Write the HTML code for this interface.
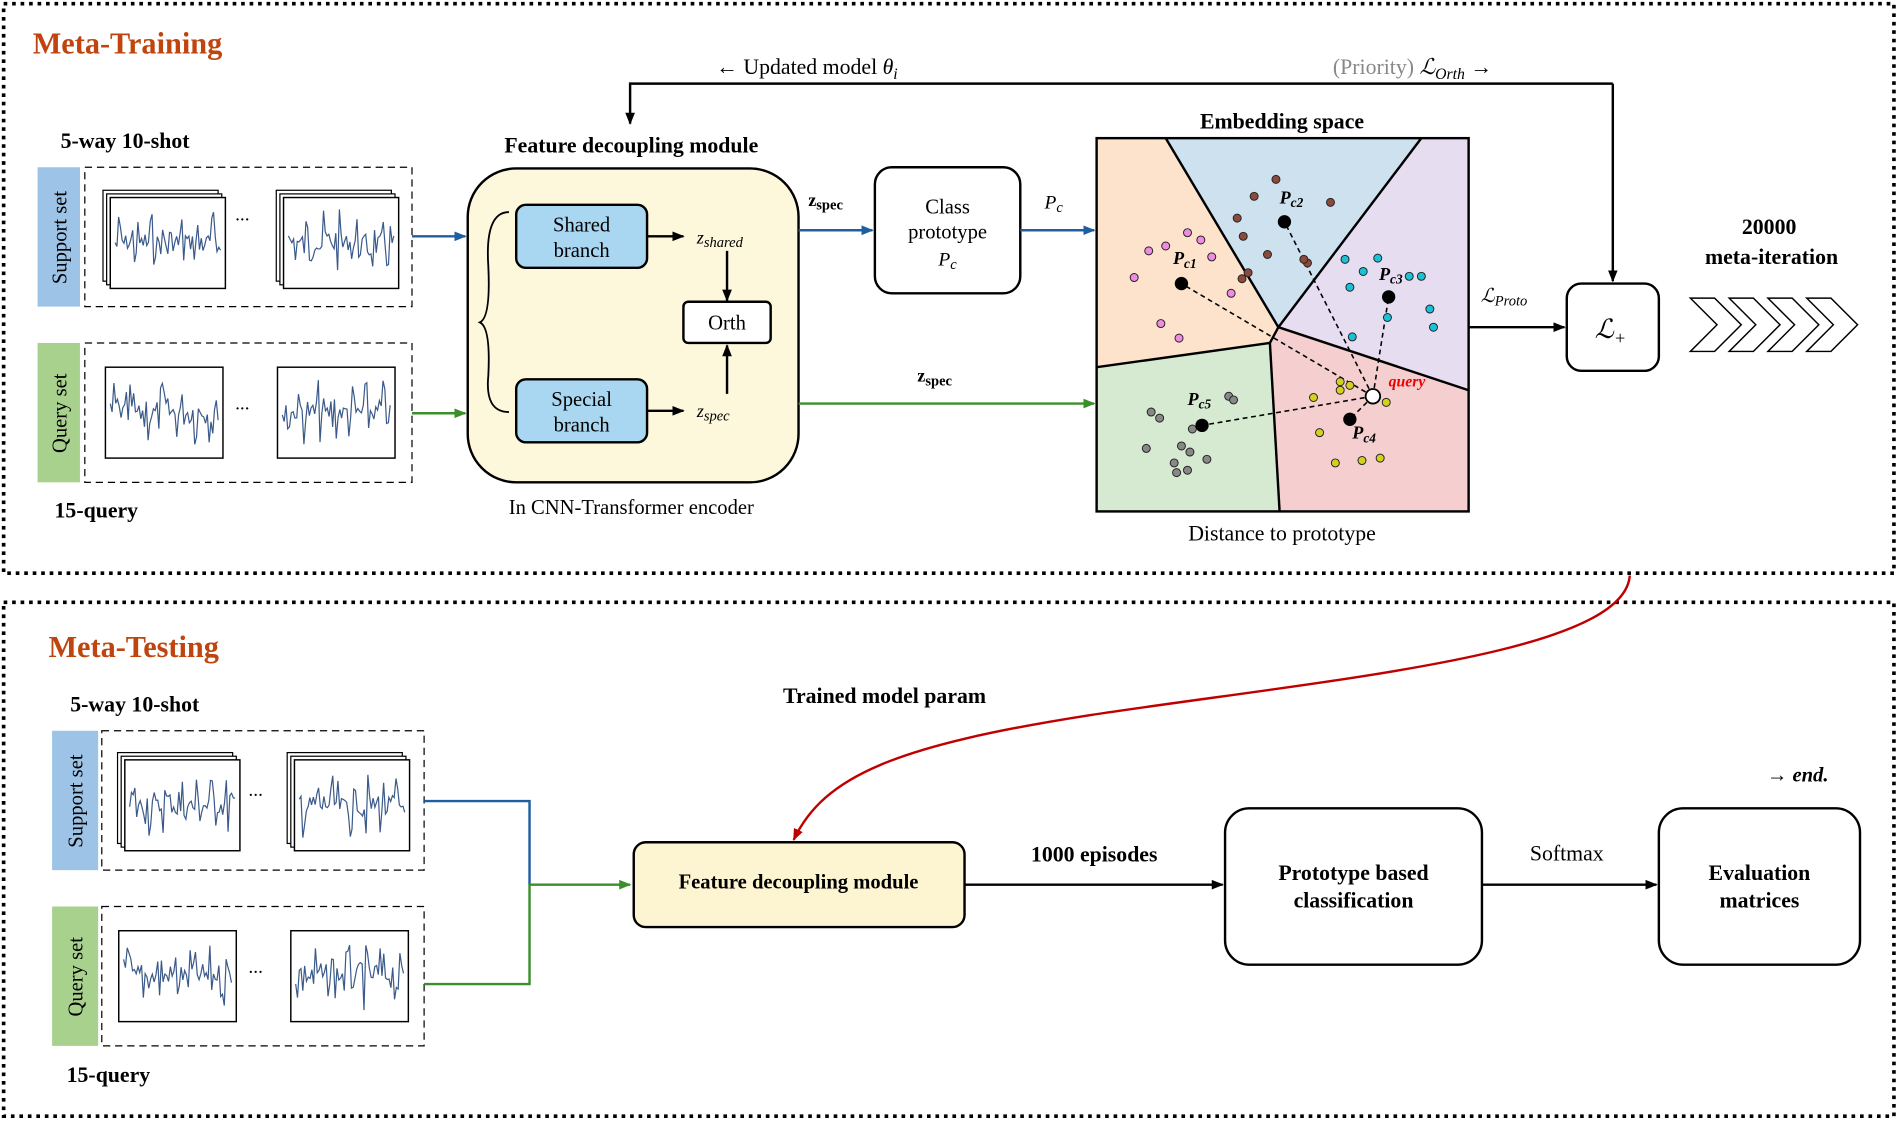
<!DOCTYPE html>
<html><head><meta charset="utf-8"><style>
html,body{margin:0;padding:0;background:#fff;}
svg{display:block;}
text{font-family:"Liberation Serif",serif;}
</style></head><body>
<svg id="s" width="1900" height="1121" viewBox="0 0 1568 925" preserveAspectRatio="none" xmlns="http://www.w3.org/2000/svg">
<defs>
<marker id="ak" markerWidth="10" markerHeight="10" refX="9" refY="5" orient="auto" markerUnits="userSpaceOnUse"><path d="M0,1 L10,5 L0,9 z" fill="#000"/></marker>
<marker id="ab" markerWidth="10" markerHeight="10" refX="9" refY="5" orient="auto" markerUnits="userSpaceOnUse"><path d="M0,1 L10,5 L0,9 z" fill="#1f5fa0"/></marker>
<marker id="ag" markerWidth="10" markerHeight="10" refX="9" refY="5" orient="auto" markerUnits="userSpaceOnUse"><path d="M0,1 L10,5 L0,9 z" fill="#3a8f2a"/></marker>
<marker id="ar" markerWidth="10" markerHeight="10" refX="9" refY="5" orient="auto" markerUnits="userSpaceOnUse"><path d="M0,1 L10,5 L0,9 z" fill="#c00000"/></marker>
</defs>
<rect x="3" y="3" width="1560" height="470" fill="none" stroke="#000" stroke-width="3" stroke-dasharray="3,4"/>
<rect x="3" y="497" width="1560" height="424" fill="none" stroke="#000" stroke-width="3" stroke-dasharray="3,4"/>
<text x="27" y="44" font-size="25" font-weight="bold" fill="#c0440e">Meta-Training</text>
<text x="40" y="542" font-size="25" font-weight="bold" fill="#c0440e">Meta-Testing</text>

<text x="50" y="122" font-size="18" font-weight="bold">5-way 10-shot</text>
<text x="45" y="427" font-size="18" font-weight="bold">15-query</text>
<rect x="31" y="138" width="35" height="115" fill="#9dc3e6"/>
<text transform="translate(55,196) rotate(-90)" font-size="17" text-anchor="middle">Support set</text>
<rect x="70" y="138" width="270" height="115" fill="none" stroke="#000" stroke-dasharray="6,4"/>
<rect x="31" y="283" width="35" height="115" fill="#a9d18e"/>
<text transform="translate(55,341) rotate(-90)" font-size="17" text-anchor="middle">Query set</text>
<rect x="70" y="283" width="270" height="115" fill="none" stroke="#000" stroke-dasharray="6,4"/>

<text x="58" y="587" font-size="18" font-weight="bold">5-way 10-shot</text>
<text x="55" y="893" font-size="18" font-weight="bold">15-query</text>
<rect x="43" y="603" width="38" height="115" fill="#9dc3e6"/>
<text transform="translate(68,661) rotate(-90)" font-size="17" text-anchor="middle">Support set</text>
<rect x="84" y="603" width="266" height="115" fill="none" stroke="#000" stroke-dasharray="6,4"/>
<rect x="43" y="748" width="38" height="115" fill="#a9d18e"/>
<text transform="translate(68,806) rotate(-90)" font-size="17" text-anchor="middle">Query set</text>
<rect x="84" y="748" width="266" height="115" fill="none" stroke="#000" stroke-dasharray="6,4"/>

<text x="521" y="126" font-size="18" font-weight="bold" text-anchor="middle">Feature decoupling module</text>
<rect x="386" y="139" width="273" height="259" rx="40" fill="#fdf7dc" stroke="#000" stroke-width="2"/>
<text x="521" y="424" font-size="17" text-anchor="middle">In CNN-Transformer encoder</text>
<rect x="426" y="169" width="108" height="52" rx="8" fill="#a9d6f0" stroke="#000" stroke-width="2"/>
<text x="480" y="191" font-size="17" text-anchor="middle">Shared</text><text x="480" y="212" font-size="17" text-anchor="middle">branch</text>
<rect x="426" y="313" width="108" height="52" rx="8" fill="#a9d6f0" stroke="#000" stroke-width="2"/>
<text x="480" y="335" font-size="17" text-anchor="middle">Special</text><text x="480" y="356" font-size="17" text-anchor="middle">branch</text>
<path d="M420,175 Q400,175 403,220 Q405,262 396,266 Q405,270 403,310 Q400,340 420,340" fill="none" stroke="#000" stroke-width="1.5"/>
<line x1="534" y1="195" x2="564" y2="195" stroke="#000" stroke-width="2" marker-end="url(#ak)"/>
<line x1="534" y1="339" x2="564" y2="339" stroke="#000" stroke-width="2" marker-end="url(#ak)"/>
<text x="575" y="201" font-size="15" font-style="italic">z<tspan font-size="12" dy="3">shared</tspan></text>
<text x="575" y="344" font-size="15" font-style="italic">z<tspan font-size="12" dy="3">spec</tspan></text>
<rect x="564" y="249" width="72" height="34" rx="4" fill="#fff" stroke="#000" stroke-width="2"/>
<text x="600" y="272" font-size="17" text-anchor="middle">Orth</text>
<line x1="600" y1="207" x2="600" y2="248" stroke="#000" stroke-width="2" marker-end="url(#ak)"/>
<line x1="600" y1="325" x2="600" y2="285" stroke="#000" stroke-width="2" marker-end="url(#ak)"/>

<line x1="340" y1="195" x2="384" y2="195" stroke="#1f5fa0" stroke-width="2" marker-end="url(#ab)"/>
<line x1="340" y1="341" x2="384" y2="341" stroke="#3a8f2a" stroke-width="2" marker-end="url(#ag)"/>
<line x1="659" y1="190" x2="720" y2="190" stroke="#1f5fa0" stroke-width="2" marker-end="url(#ab)"/>
<text x="667" y="170" font-size="15" font-weight="bold">z<tspan font-size="12" dy="3">spec</tspan></text>
<line x1="659" y1="333" x2="903" y2="333" stroke="#3a8f2a" stroke-width="2" marker-end="url(#ag)"/>
<text x="757" y="315" font-size="15" font-weight="bold">z<tspan font-size="12" dy="3">spec</tspan></text>
<rect x="722" y="138" width="120" height="104" rx="14" fill="#fff" stroke="#000" stroke-width="2"/>
<text x="782" y="176" font-size="17" text-anchor="middle">Class</text>
<text x="782" y="197" font-size="17" text-anchor="middle">prototype</text>
<text x="782" y="219" font-size="16" font-style="italic" text-anchor="middle">P<tspan font-size="12" dy="3">c</tspan></text>
<line x1="842" y1="190" x2="903" y2="190" stroke="#1f5fa0" stroke-width="2" marker-end="url(#ab)"/>
<text x="862" y="172" font-size="16" font-style="italic">P<tspan font-size="12" dy="3">c</tspan></text>

<path d="M1331,69 L520,69 L520,102" fill="none" stroke="#000" stroke-width="2" marker-end="url(#ak)"/>
<line x1="1331" y1="69" x2="1331" y2="232" stroke="#000" stroke-width="2" marker-end="url(#ak)"/>
<text x="591" y="61" font-size="18">← Updated model <tspan font-style="italic">θ</tspan><tspan font-style="italic" font-size="13" dy="4">i</tspan></text>
<text x="1100" y="61" font-size="18" fill="#888">(Priority) <tspan font-style="italic" fill="#000">ℒ</tspan><tspan font-style="italic" font-size="13" dy="4" fill="#000">Orth</tspan><tspan dy="-4" fill="#000"> →</tspan></text>

<text x="1058" y="106" font-size="18" font-weight="bold" text-anchor="middle">Embedding space</text>
<polygon points="905,114 962,114 1055,270 1048,283 905,303" fill="#fde3cc"/>
<polygon points="962,114 1173,114 1055,270" fill="#cde1ee"/>
<polygon points="1173,114 1212,114 1212,322 1055,270" fill="#e6ddf1"/>
<polygon points="905,303 1048,283 1056,422 905,422" fill="#d5ead0"/>
<polygon points="1048,283 1055,270 1212,322 1212,422 1056,422" fill="#f5cfcf"/>
<g stroke="#000" stroke-width="2" fill="none">
<line x1="962" y1="114" x2="1055" y2="270"/><line x1="1173" y1="114" x2="1055" y2="270"/>
<line x1="1055" y1="270" x2="1212" y2="322"/><line x1="1055" y1="270" x2="1048" y2="283"/>
<line x1="905" y1="303" x2="1048" y2="283"/><line x1="1048" y1="283" x2="1056" y2="422"/>
<rect x="905" y="114" width="307" height="308"/>
</g>
<g stroke="#000" stroke-width="1.3" stroke-dasharray="4,3">
<line x1="1133" y1="327" x2="975" y2="234"/><line x1="1133" y1="327" x2="1060" y2="183"/>
<line x1="1133" y1="327" x2="1146" y2="245"/><line x1="1133" y1="327" x2="992" y2="351"/>
<line x1="1133" y1="327" x2="1114" y2="346"/>
</g>
<g id="dots"></g>
<g fill="#000"><circle cx="975" cy="234" r="5.5"/><circle cx="1060" cy="183" r="5.5"/><circle cx="1146" cy="245" r="5.5"/><circle cx="992" cy="351" r="5.5"/><circle cx="1114" cy="346" r="5.5"/></g>
<circle cx="1133" cy="327" r="6" fill="#fff" stroke="#000" stroke-width="1.5"/>
<g font-size="15" font-style="italic" font-weight="bold">
<text x="968" y="218">P<tspan font-size="11" dy="3">c1</tspan></text>
<text x="1056" y="168">P<tspan font-size="11" dy="3">c2</tspan></text>
<text x="1138" y="231">P<tspan font-size="11" dy="3">c3</tspan></text>
<text x="1116" y="362">P<tspan font-size="11" dy="3">c4</tspan></text>
<text x="980" y="334">P<tspan font-size="11" dy="3">c5</tspan></text>
</g>
<text x="1146" y="319" font-size="13" font-style="italic" font-weight="bold" fill="#e00">query</text>
<text x="1058" y="446" font-size="18" text-anchor="middle">Distance to prototype</text>

<line x1="1212" y1="270" x2="1291" y2="270" stroke="#000" stroke-width="2" marker-end="url(#ak)"/>
<text x="1222" y="249" font-size="16" font-style="italic">ℒ<tspan font-size="12" dy="3">Proto</tspan></text>
<rect x="1293" y="234" width="76" height="72" rx="12" fill="#fff" stroke="#000" stroke-width="2"/>
<text x="1316" y="279" font-size="22" font-style="italic">ℒ<tspan font-size="15" dy="5">+</tspan></text>
<text x="1460" y="193" font-size="18" font-weight="bold" text-anchor="middle">20000</text>
<text x="1462" y="218" font-size="18" font-weight="bold" text-anchor="middle">meta-iteration</text>
<g fill="#fff" stroke="#000" stroke-width="1.2">
<polygon points="1395,246 1415,246 1437,268 1415,290 1395,290 1417,268"/>
<polygon points="1427,246 1447,246 1469,268 1447,290 1427,290 1449,268"/>
<polygon points="1459,246 1479,246 1501,268 1479,290 1459,290 1481,268"/>
<polygon points="1491,246 1511,246 1533,268 1511,290 1491,290 1513,268"/>
</g>

<path d="M1345,475 C1340,540 1100,560 900,590 C740,615 680,640 655,693" fill="none" stroke="#c00000" stroke-width="2" marker-end="url(#ar)"/>
<text x="730" y="580" font-size="18" font-weight="bold" text-anchor="middle">Trained model param</text>
<polyline points="350,661 437,661 437,730" fill="none" stroke="#1f5fa0" stroke-width="2"/>
<polyline points="350,812 437,812 437,730 520,730" fill="none" stroke="#3a8f2a" stroke-width="2" marker-end="url(#ag)"/>
<rect x="523" y="695" width="273" height="70" rx="10" fill="#fdf5d2" stroke="#000" stroke-width="2"/>
<text x="659" y="733" font-size="17" font-weight="bold" text-anchor="middle">Feature decoupling module</text>
<line x1="796" y1="730" x2="1009" y2="730" stroke="#000" stroke-width="2" marker-end="url(#ak)"/>
<text x="903" y="711" font-size="18" font-weight="bold" text-anchor="middle">1000 episodes</text>
<rect x="1011" y="667" width="212" height="129" rx="20" fill="#fff" stroke="#000" stroke-width="2"/>
<text x="1117" y="726" font-size="18" font-weight="bold" text-anchor="middle">Prototype based</text>
<text x="1117" y="749" font-size="18" font-weight="bold" text-anchor="middle">classification</text>
<line x1="1223" y1="730" x2="1367" y2="730" stroke="#000" stroke-width="2" marker-end="url(#ak)"/>
<text x="1293" y="710" font-size="18" text-anchor="middle">Softmax</text>
<rect x="1369" y="667" width="166" height="129" rx="20" fill="#fff" stroke="#000" stroke-width="2"/>
<text x="1452" y="726" font-size="18" font-weight="bold" text-anchor="middle">Evaluation</text>
<text x="1452" y="749" font-size="18" font-weight="bold" text-anchor="middle">matrices</text>
<text x="1458" y="645" font-size="17" font-style="italic" font-weight="bold">→ end.</text>
</svg>
<script>
(function(){
var NS="http://www.w3.org/2000/svg",s=document.getElementById("s");
var seed=7;function r(){seed=(seed*9301+49297)%233280;return seed/233280;}
function el(t,a,p){var e=document.createElementNS(NS,t);for(var k in a)e.setAttribute(k,a[k]);(p||s).appendChild(e);return e;}
function wave(x,y,w,h){var p=[];var n=60;for(var i=0;i<=n;i++){var v=(r()-0.5)*h*0.75*(0.6+0.4*Math.sin(i*0.7));p.push((x+4+i*(w-8)/n).toFixed(1)+","+(y+h/2+v).toFixed(1));}
el("polyline",{points:p.join(" "),fill:"none",stroke:"#3b5a8a","stroke-width":"1"});}
function card(x,y,w,h,stack){if(stack){el("rect",{x:x-6,y:y-6,width:w,height:h,fill:"#fff",stroke:"#000","stroke-width":"1"});el("rect",{x:x-3,y:y-3,width:w,height:h,fill:"#fff",stroke:"#000","stroke-width":"1"});}
el("rect",{x:x,y:y,width:w,height:h,fill:"#fff",stroke:"#000","stroke-width":"1.2"});wave(x,y,w,h);}
card(91,163,95,75,true);card(234,163,95,75,true);
card(87,303,97,75,false);card(229,303,97,75,false);
card(103,627,95,75,true);card(243,627,95,75,true);
card(98,768,97,75,false);card(240,768,97,75,false);
[[200,182],[200,338],[211,657],[211,803]].forEach(function(d){var t=el("text",{x:d[0],y:d[1],"font-size":"16","text-anchor":"middle"});t.textContent="...";});
var g0=document.getElementById("dots");
var D=[["#f08ce0",[[936,229],[948,207],[958,267],[973,279],[962,203],[980,192],[991,198],[1000,212],[1016,242]]],
["#8b4a3a",[[1035,162],[1021,180],[1053,148],[1098,167],[1026,195],[1030,225],[1046,210],[1079,217],[1076,214],[1025,230]]],
["#19c2d6",[[1110,214],[1137,213],[1125,224],[1163,228],[1173,228],[1114,237],[1180,255],[1183,270],[1145,262],[1116,278]]],
["#d4d020",[[1106,315],[1114,318],[1106,322],[1084,328],[1144,332],[1089,357],[1124,380],[1139,378],[1102,382]]],
["#888",[[950,340],[957,345],[1014,327],[1018,330],[975,368],[946,370],[982,373],[971,390],[969,382],[980,388],[996,379],[984,354]]]];
D.forEach(function(g){g[1].forEach(function(p){el("circle",{cx:p[0],cy:p[1],r:"3.3",fill:g[0],stroke:"#222","stroke-width":"0.8"},g0);});});
})();
</script>
</body></html>
